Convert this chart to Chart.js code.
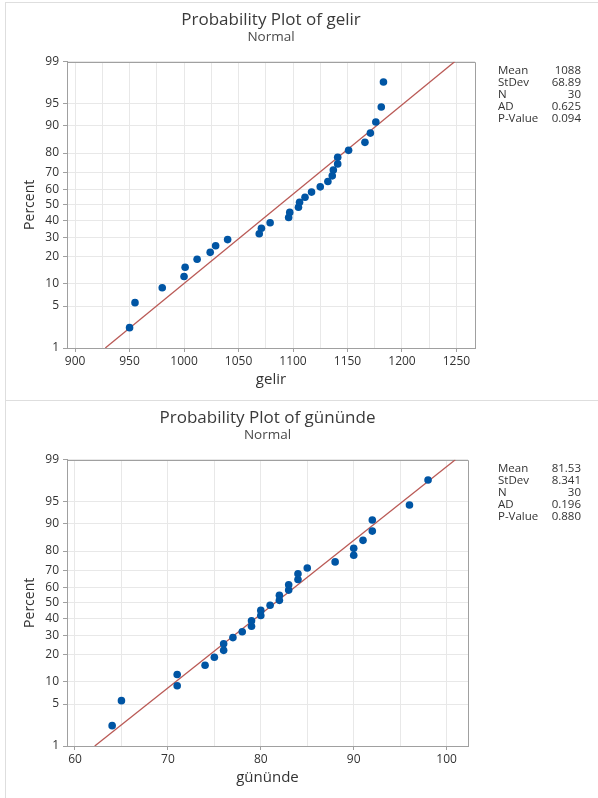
<!DOCTYPE html>
<html><head><meta charset="utf-8">
<script src="https://cdn.jsdelivr.net/npm/chart.js@4.4.1/dist/chart.umd.min.js"></script>
<style>
html,body{margin:0;padding:0;background:#fff;overflow:hidden;}
.panel{position:absolute;left:5px;width:600px;border:1px solid #dedede;border-right:none;box-sizing:border-box;}
#p1{top:2px;height:399px;border-bottom:none;}
#p2{top:400px;height:400px;border-bottom:none;}
canvas{position:absolute;left:0;top:0;}
</style></head><body>
<div class="panel" id="p1"><canvas id="c1" width="592" height="397"></canvas></div>
<div class="panel" id="p2"><canvas id="c2" width="592" height="397"></canvas></div>
<script>
// ---- data ----
const percentTicks = [1, 5, 10, 20, 30, 40, 50, 60, 70, 80, 90, 95, 99];

const gelir = [950, 955, 980, 1000, 1001, 1012, 1024, 1029, 1040, 1069, 1071, 1079, 1096, 1097, 1105,
               1106, 1111, 1117, 1125, 1132, 1136, 1137, 1141, 1141, 1151, 1166, 1171, 1176, 1181, 1183];
const gelirPercent = [2.3, 5.6, 8.9, 12.2, 15.5, 18.8, 22.0, 25.3, 28.6, 31.9, 35.2, 38.5, 41.8, 45.1, 48.4,
                      51.6, 54.9, 58.2, 61.5, 64.8, 68.1, 71.4, 74.7, 78.0, 81.2, 84.5, 87.8, 91.1, 94.4, 97.7];
const gelirGrid = [900, 925, 950, 975, 1000, 1025, 1050, 1075, 1100, 1125, 1150, 1175, 1200, 1225, 1250];
const gelirTickLabels = [900, 950, 1000, 1050, 1100, 1150, 1200, 1250];
const gelirStatValues = ['1088', '68.89', '30', '0.625', '0.094'];
const gelirMean = 1088, gelirSd = 68.89;

const gununde = [64, 65, 71, 71, 74, 75, 76, 76, 77, 78, 79, 79, 80, 80, 81,
                 82, 82, 83, 83, 84, 84, 85, 88, 90, 90, 91, 92, 92, 96, 98];
const gunundePercent = [2.3, 5.6, 8.9, 12.2, 15.5, 18.8, 22.0, 25.3, 28.6, 31.9, 35.2, 38.5, 41.8, 45.1, 48.4,
                        51.6, 54.9, 58.2, 61.5, 64.8, 68.1, 71.4, 74.7, 78.0, 81.2, 84.5, 87.8, 91.1, 94.4, 97.7];
const gunundeGrid = [60, 65, 70, 75, 80, 85, 90, 95, 100];
const gunundeTickLabels = [60, 70, 80, 90, 100];
const gunundeStatValues = ['81.53', '8.341', '30', '0.196', '0.880'];
const gunundeMean = 81.53, gunundeSd = 8.341;

const statLabels = ['Mean', 'StDev', 'N', 'AD', 'P-Value'];

// inverse standard normal (probability scale transform)
function probit(p){
  const a=[-3.969683028665376e+01,2.209460984245205e+02,-2.759285104469687e+02,1.383577518672690e+02,-3.066479806614716e+01,2.506628277459239e+00];
  const b=[-5.447609879822406e+01,1.615858368580409e+02,-1.556989798598866e+02,6.680131188771972e+01,-1.328068155288572e+01];
  const c=[-7.784894002430293e-03,-3.223964580411365e-01,-2.400758277161838e+00,-2.549732539343734e+00,4.374664141464968e+00,2.938163982698783e+00];
  const d=[7.784695709041462e-03,3.224671290700398e-01,2.445134137142996e+00,3.754408661907416e+00];
  const pl=0.02425, ph=1-pl; let q,r;
  if(p<pl){q=Math.sqrt(-2*Math.log(p));return (((((c[0]*q+c[1])*q+c[2])*q+c[3])*q+c[4])*q+c[5])/((((d[0]*q+d[1])*q+d[2])*q+d[3])*q+1);}
  if(p>ph){q=Math.sqrt(-2*Math.log(1-p));return -(((((c[0]*q+c[1])*q+c[2])*q+c[3])*q+c[4])*q+c[5])/((((d[0]*q+d[1])*q+d[2])*q+d[3])*q+1);}
  q=p-0.5;r=q*q;return (((((a[0]*r+a[1])*r+a[2])*r+a[3])*r+a[4])*r+a[5])*q/(((((b[0]*r+b[1])*r+b[2])*r+b[3])*r+b[4])*r+1);
}

const FONT = "'Open Sans', 'Noto Sans', sans-serif";
const TXT = '#333333';
const Z_MIN = probit(percentTicks[0]/100), Z_MAX = probit(percentTicks[percentTicks.length-1]/100);

function makeChart(id, opt){
  const pts = opt.xs.map((x,i)=>({x:x, y:probit(opt.pcts[i]/100)}));
  const fit = [{x: opt.mean + opt.sd*Z_MIN, y: Z_MIN}, {x: opt.mean + opt.sd*Z_MAX, y: Z_MAX}];
  const frame = {
    id:'frame',
    beforeDatasetsDraw(chart){
      const {ctx, chartArea:a} = chart;
      ctx.save(); ctx.strokeStyle='#a0a0a0'; ctx.lineWidth=1;
      ctx.beginPath();
      ctx.moveTo(Math.round(a.left)+0.5, Math.round(a.top)+0.5);
      ctx.lineTo(Math.round(a.right)+0.5, Math.round(a.top)+0.5);
      ctx.lineTo(Math.round(a.right)+0.5, Math.round(a.bottom)+0.5);
      ctx.stroke(); ctx.restore();
    },
    afterDraw(chart){
      const ctx = chart.ctx;
      ctx.save(); ctx.fillStyle = TXT; ctx.font = "11.5px " + FONT; ctx.textBaseline='middle';
      statLabels.forEach((l,i)=>{
        ctx.textAlign='left'; ctx.fillText(l, 492, 68 + i*12);
        ctx.textAlign='right'; ctx.fillText(opt.stats[i], 575, 68 + i*12);
      });
      ctx.restore();
    }
  };
  return new Chart(document.getElementById(id), {
    type:'scatter',
    data:{datasets:[
      {label:opt.xTitle, data:pts, order:0, pointRadius:3.8, pointHoverRadius:3.8,
       backgroundColor:'#0055a4', borderColor:'#0055a4', borderWidth:0},
      {label:'fit', data:fit, order:1, showLine:true, pointRadius:0, borderColor:'#ba5a56', borderWidth:1.3, fill:false}
    ]},
    options:{
      responsive:false, animation:false, devicePixelRatio:1,
      layout:{padding:{top:0,left:0,bottom:0,right:opt.rightPad}},
      plugins:{
        legend:{display:false}, tooltip:{enabled:false},
        title:{display:true, text:opt.title, fullSize:false, color:'#3a3a3a',
               font:{family:FONT, size:17, weight:'normal', lineHeight:1.05}, padding:{top:8,bottom:0}},
        subtitle:{display:true, text:'Normal', fullSize:false, color:'#4a4a4a',
               font:{family:FONT, size:13.5, lineHeight:1.2}, padding:{top:0,bottom:16.6}}
      },
      scales:{
        x:{type:'linear', position:'bottom', min:opt.xMin, max:opt.xMax,
           afterFit:(s)=>{s.height=52;},
           afterBuildTicks:(s)=>{s.ticks = opt.grid.map(v=>({value:v}));},
           grid:{color:'#e8e8e8', lineWidth:1, tickLength:4,
                 tickColor:(c)=> (c.tick && opt.labels.includes(c.tick.value)) ? '#a0a0a0' : 'rgba(0,0,0,0)'},
           border:{color:'#a0a0a0', width:1},
           ticks:{autoSkip:false, maxRotation:0, padding:2, color:TXT, font:{family:FONT,size:12},
                  callback:(v)=> opt.labels.includes(v) ? String(v) : ''},
           title:{display:true, text:opt.xTitle, color:TXT, font:{family:FONT,size:15}, padding:{top:0,bottom:11}}
        },
        y:{type:'linear', min:Z_MIN, max:Z_MAX,
           afterFit:(s)=>{s.width=61;},
           afterBuildTicks:(s)=>{s.ticks = percentTicks.map(p=>({value:probit(p/100)}));},
           grid:{color:'#e8e8e8', lineWidth:1, tickLength:4, tickColor:'#a0a0a0'},
           border:{color:'#a0a0a0', width:1},
           ticks:{autoSkip:false, padding:4, color:TXT, font:{family:FONT,size:12},
                  callback:(v,i)=> String(percentTicks[i])},
           title:{display:true, text:'Percent', color:TXT, font:{family:FONT,size:14}, padding:{top:15.6,bottom:0}}
        }
      }
    },
    plugins:[frame]
  });
}

makeChart('c1', {xs:gelir, pcts:gelirPercent, mean:gelirMean, sd:gelirSd, stats:gelirStatValues,
  xMin:892.6, xMax:1267, grid:gelirGrid, labels:gelirTickLabels, title:'Probability Plot of gelir', xTitle:'gelir', rightPad:123});
makeChart('c2', {xs:gununde, pcts:gunundePercent, mean:gunundeMean, sd:gunundeSd, stats:gunundeStatValues,
  xMin:59.14, xMax:102.3, grid:gunundeGrid, labels:gunundeTickLabels, title:'Probability Plot of gününde', xTitle:'gününde', rightPad:130});
</script>
</body></html>
